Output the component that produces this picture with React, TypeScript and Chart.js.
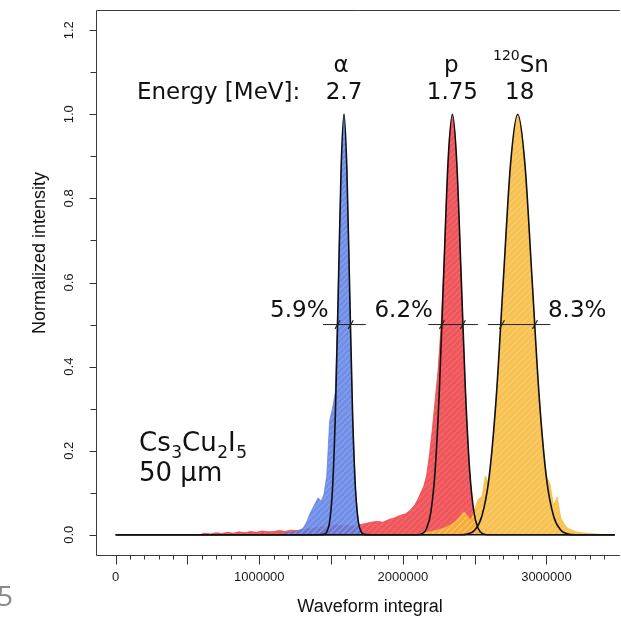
import React, { useEffect, useRef } from "react";
import { Chart, registerables } from "chart.js";

Chart.register(...registerables);

// ---------- data (waveform integral in thousands, normalized intensity) ----------
// alpha 2.7 MeV histogram
const alphaHistX = [1150, 1170, 1190, 1210, 1230, 1250, 1270, 1290, 1310, 1330, 1350, 1370, 1390, 1410, 1430, 1450, 1470, 1490, 1510, 1530, 1550, 1570, 1590, 1610, 1630, 1650, 1670, 1690, 1710, 1730, 1750];
const alphaHistY = [0, 0.003, 0.004, 0.006, 0.005, 0.007, 0.01, 0.012, 0.018, 0.03, 0.048, 0.062, 0.075, 0.088, 0.08, 0.095, 0.14, 0.27, 0.3, 0.34, 0.58, 0.87, 1.0, 0.87, 0.57, 0.28, 0.11, 0.03, 0.008, 0.002, 0];

// proton 1.75 MeV histogram
const protonHistX = [580, 620, 660, 700, 740, 780, 820, 860, 900, 940, 980, 1020, 1060, 1100, 1140, 1180, 1220, 1260, 1300, 1340, 1380, 1420, 1460, 1500, 1540, 1580, 1620, 1660, 1700, 1740, 1780, 1820, 1860, 1900, 1940, 1980, 2020, 2050, 2085, 2105, 2125, 2145, 2165, 2185, 2205, 2225, 2245, 2265, 2285, 2305, 2325, 2345, 2365, 2385, 2405, 2425, 2445, 2465, 2485, 2505, 2525, 2545];
const protonHistY = [0, 0.004, 0.002, 0.005, 0.003, 0.006, 0.004, 0.007, 0.005, 0.008, 0.006, 0.009, 0.007, 0.008, 0.01, 0.008, 0.011, 0.01, 0.012, 0.014, 0.016, 0.018, 0.02, 0.022, 0.024, 0.021, 0.023, 0.02, 0.024, 0.027, 0.03, 0.032, 0.03, 0.036, 0.04, 0.046, 0.05, 0.058, 0.072, 0.085, 0.1, 0.115, 0.14, 0.19, 0.25, 0.32, 0.39, 0.49, 0.63, 0.81, 0.95, 1.0, 0.95, 0.81, 0.62, 0.43, 0.27, 0.15, 0.07, 0.03, 0.01, 0];

// 120Sn 18 MeV histogram
const snHistX = [2130, 2150, 2175, 2200, 2225, 2250, 2275, 2300, 2325, 2350, 2375, 2400, 2425, 2450, 2475, 2500, 2525, 2550, 2575, 2600, 2625, 2650, 2675, 2700, 2725, 2750, 2775, 2800, 2825, 2850, 2875, 2900, 2925, 2950, 2975, 3000, 3025, 3050, 3075, 3100, 3125, 3150, 3175, 3200, 3250, 3300, 3350, 3400];
const snHistY = [0, 0.005, 0.006, 0.008, 0.01, 0.012, 0.015, 0.018, 0.022, 0.028, 0.035, 0.045, 0.055, 0.045, 0.035, 0.06, 0.085, 0.09, 0.14, 0.12, 0.21, 0.33, 0.45, 0.61, 0.75, 0.88, 0.97, 1.0, 0.97, 0.88, 0.75, 0.61, 0.46, 0.33, 0.22, 0.14, 0.12, 0.07, 0.09, 0.04, 0.025, 0.015, 0.012, 0.008, 0.005, 0.003, 0.002, 0];

// fitted curves (black)
const alphaFitX = [0, 1400, 1450, 1470, 1490, 1510, 1530, 1550, 1570, 1590, 1610, 1630, 1650, 1670, 1690, 1710, 1730, 1780, 3700];
const alphaFitY = [0, 0, 0.001, 0.007, 0.031, 0.109, 0.287, 0.575, 0.871, 1.0, 0.871, 0.575, 0.287, 0.109, 0.031, 0.007, 0.001, 0, 0];
const protonFitX = [0, 2100, 2135, 2165, 2195, 2225, 2255, 2285, 2315, 2345, 2375, 2405, 2435, 2465, 2495, 2525, 2555, 2590, 3700];
const protonFitY = [0, 0, 0.003, 0.015, 0.054, 0.154, 0.349, 0.626, 0.889, 1.0, 0.889, 0.626, 0.349, 0.154, 0.054, 0.015, 0.003, 0, 0];
const snFitX = [0, 2400, 2450, 2500, 2550, 2600, 2650, 2700, 2750, 2800, 2850, 2900, 2950, 3000, 3050, 3100, 3150, 3200, 3700];
const snFitY = [0, 0, 0.002, 0.011, 0.044, 0.135, 0.325, 0.607, 0.882, 1.0, 0.882, 0.607, 0.325, 0.135, 0.044, 0.011, 0.002, 0, 0];

// half-maximum bars and FWHM markers
const halfLevel = 0.5;
const alphaHalfBar = [1444, 1742];
const alphaFwhmMarks = [1545, 1637];
const protonHalfBar = [2177, 2522];
const protonFwhmMarks = [2272, 2418];
const snHalfBar = [2592, 3027];
const snFwhmMarks = [2690, 2920];
const resolutionLabels = ["5.9%", "6.2%", "8.3%"];

// peak labels
const peakCentres = [1590, 2345, 2800];
const particleLabels = ["α", "p", "Sn"];
const energyLabels = ["2.7", "1.75", "18"];

// axes
const xMin = -137;
const xMax = 3476;
const yMin = -0.048;
const yMax = 1.248;
const xMinorTicks = [0, 100, 200, 300, 400, 500, 600, 700, 800, 900, 1000, 1100, 1200, 1300, 1400, 1500, 1600, 1700, 1800, 1900, 2000, 2100, 2200, 2300, 2400, 2500, 2600, 2700, 2800, 2900, 3000, 3100, 3200, 3300, 3400];
const xMajorTicks = [0, 500, 1000, 1500, 2000, 2500, 3000];
const xLabelTicks = [0, 1000, 2000, 3000];
const xTickLabels = ["0", "1000000", "2000000", "3000000"];
const yMinorTicks = [0.1, 0.3, 0.5, 0.7, 0.9, 1.1];
const yMajorTicks = [0, 0.2, 0.4, 0.6, 0.8, 1.0, 1.2];
const yTickLabels = ["0.0", "0.2", "0.4", "0.6", "0.8", "1.0", "1.2"];

const pts = (xs: number[], ys: number[]) => xs.map((x, i) => ({ x: x * 1000, y: ys[i] }));

const TICK_FONT = '13px "Liberation Sans", Arial, sans-serif';
const TITLE_FONT = '18px "Liberation Sans", Arial, sans-serif';
const ANN = '"DejaVu Sans", Verdana, sans-serif';

function makePattern(ctx: CanvasRenderingContext2D, base: string, stripe: string) {
  const c = document.createElement("canvas");
  c.width = 6;
  c.height = 6;
  const g = c.getContext("2d")!;
  g.fillStyle = base;
  g.fillRect(0, 0, 6, 6);
  g.strokeStyle = stripe;
  g.lineWidth = 1.2;
  g.beginPath();
  g.moveTo(0, 6);
  g.lineTo(6, 0);
  g.moveTo(-1, 1);
  g.lineTo(1, -1);
  g.moveTo(5, 7);
  g.lineTo(7, 5);
  g.stroke();
  return ctx.createPattern(c, "repeat") as CanvasPattern;
}

const decorPlugin = {
  id: "decor",
  afterDraw(chart: any) {
    const { ctx, chartArea: ca, scales } = chart;
    const xs = scales.x;
    const ys = scales.y;
    const px = (v: number) => xs.getPixelForValue(v * 1000);
    const py = (v: number) => ys.getPixelForValue(v);
    ctx.save();

    // frame
    ctx.strokeStyle = "#3c3c3c";
    ctx.lineWidth = 1;
    ctx.beginPath();
    ctx.moveTo(ca.right + 5, Math.round(ca.top) + 0.5);
    ctx.lineTo(Math.round(ca.left) + 0.5, Math.round(ca.top) + 0.5);
    ctx.lineTo(Math.round(ca.left) + 0.5, Math.round(ca.bottom) + 0.5);
    ctx.lineTo(ca.right + 5, Math.round(ca.bottom) + 0.5);
    ctx.stroke();

    // x ticks
    ctx.strokeStyle = "#333";
    ctx.beginPath();
    const yb = Math.round(ca.bottom) + 0.5;
    xMinorTicks.forEach((v) => {
      const x = Math.round(px(v)) + 0.5;
      ctx.moveTo(x, yb);
      ctx.lineTo(x, yb + 4);
    });
    xMajorTicks.forEach((v) => {
      const x = Math.round(px(v)) + 0.5;
      ctx.moveTo(x, yb);
      ctx.lineTo(x, yb + 9);
    });
    // y ticks
    const xl = Math.round(ca.left) + 0.5;
    yMinorTicks.forEach((v) => {
      const y = Math.round(py(v)) + 0.5;
      ctx.moveTo(xl, y);
      ctx.lineTo(xl - 6, y);
    });
    yMajorTicks.forEach((v) => {
      const y = Math.round(py(v)) + 0.5;
      ctx.moveTo(xl, y);
      ctx.lineTo(xl - 7, y);
    });
    ctx.stroke();

    // tick labels
    ctx.fillStyle = "#1a1a1a";
    ctx.font = TICK_FONT;
    ctx.textAlign = "center";
    ctx.textBaseline = "middle";
    xLabelTicks.forEach((v, i) => ctx.fillText(xTickLabels[i], px(v), ca.bottom + 22));
    yMajorTicks.forEach((v, i) => {
      ctx.save();
      ctx.translate(69, py(v));
      ctx.rotate(-Math.PI / 2);
      ctx.fillText(yTickLabels[i], 0, 0);
      ctx.restore();
    });

    // axis titles
    ctx.font = TITLE_FONT;
    ctx.fillStyle = "#111";
    ctx.fillText("Waveform integral", 370, 607);
    ctx.save();
    ctx.translate(40, 253);
    ctx.rotate(-Math.PI / 2);
    ctx.fillText("Normalized intensity", 0, 0);
    ctx.restore();

    // annotations
    ctx.fillStyle = "#111";
    ctx.font = `23px ${ANN}`;
    ctx.textBaseline = "alphabetic";
    ctx.textAlign = "left";
    ctx.fillText("Energy [MeV]:", 137, 99);
    ctx.textAlign = "center";
    energyLabels.forEach((t, i) => ctx.fillText(t, px(peakCentres[i]) + (i === 2 ? 2 : 0), 99));
    ctx.fillText(particleLabels[0], px(peakCentres[0]) - 3, 72);
    ctx.fillText(particleLabels[1], px(peakCentres[1]) - 1, 72);
    // 120Sn
    ctx.textAlign = "left";
    const snX = px(peakCentres[2]) + 2;
    ctx.fillText(particleLabels[2], snX, 72);
    ctx.font = `14px ${ANN}`;
    ctx.textAlign = "right";
    ctx.fillText("120", snX, 60);

    // resolution labels
    ctx.font = `23px ${ANN}`;
    ctx.textAlign = "right";
    ctx.fillText(resolutionLabels[0], px(alphaFwhmMarks[0]) - 9, 317);
    ctx.fillText(resolutionLabels[1], px(protonFwhmMarks[0]) - 9, 317);
    ctx.textAlign = "left";
    ctx.fillText(resolutionLabels[2], px(snFwhmMarks[1]) + 13, 317);

    // sample label Cs3Cu2I5 / 50 µm
    ctx.textAlign = "left";
    let cx = 139;
    const big = `26px ${ANN}`;
    const small = `17px ${ANN}`;
    const parts: [string, boolean][] = [["Cs", false], ["3", true], ["Cu", false], ["2", true], ["I", false], ["5", true]];
    parts.forEach(([t, sub]) => {
      ctx.font = sub ? small : big;
      ctx.fillText(t, cx, sub ? 458 : 451);
      cx += ctx.measureText(t).width + (sub ? 0 : 0.5);
    });
    ctx.font = big;
    ctx.fillText("50 µm", 139, 481);

    // page number
    ctx.fillStyle = "#8a8a8a";
    ctx.font = '28px "Open Sans", sans-serif';
    ctx.textAlign = "left";
    ctx.textBaseline = "middle";
    ctx.fillText("5", -3, 598);

    ctx.restore();
  },
};

export default function App() {
  const canvasRef = useRef<HTMLCanvasElement | null>(null);

  useEffect(() => {
    const canvas = canvasRef.current!;
    const ctx = canvas.getContext("2d")!;
    const bluePat = makePattern(ctx, "rgba(88,124,228,0.86)", "rgba(142,168,240,0.86)");
    const redPat = makePattern(ctx, "rgba(236,58,64,0.86)", "rgba(244,112,118,0.86)");
    const orangePat = makePattern(ctx, "rgba(246,184,54,0.86)", "rgba(250,207,118,0.86)");

    const hist = (data: any, pat: CanvasPattern, edge: string, order: number) => ({
      data,
      fill: "origin",
      backgroundColor: pat,
      borderColor: edge,
      borderWidth: 0.8,
      pointRadius: 0,
      tension: 0,
      order,
    });
    const fit = (data: any) => ({
      data,
      fill: false,
      borderColor: "#111111",
      borderWidth: 1.6,
      pointRadius: 0,
      cubicInterpolationMode: "monotone",
      order: 1,
    });
    const bar = (xsv: number[]) => ({
      data: xsv.map((x) => ({ x: x * 1000, y: halfLevel })),
      fill: false,
      borderColor: "#222222",
      borderWidth: 1,
      pointRadius: 0,
      order: 0,
    });
    const marks = (xsv: number[]) => ({
      data: xsv.map((x) => ({ x: x * 1000, y: halfLevel })),
      showLine: false,
      pointStyle: "line",
      rotation: -60,
      pointRadius: 5,
      pointBorderColor: "#222222",
      pointBorderWidth: 1.2,
      order: 0,
    });

    const chart = new Chart(canvas, {
      type: "line",
      data: {
        datasets: [
          hist(pts(protonHistX, protonHistY), redPat, "rgba(236,58,64,0.9)", 5),
          hist(pts(snHistX, snHistY), orangePat, "rgba(246,184,54,0.9)", 4),
          hist(pts(alphaHistX, alphaHistY), bluePat, "rgba(88,124,228,0.9)", 3),
          fit(pts(alphaFitX, alphaFitY)),
          fit(pts(protonFitX, protonFitY)),
          fit(pts(snFitX, snFitY)),
          bar(alphaHalfBar),
          bar(protonHalfBar),
          bar(snHalfBar),
          marks(alphaFwhmMarks),
          marks(protonFwhmMarks),
          marks(snFwhmMarks),
        ] as any,
      },
      options: {
        responsive: false,
        maintainAspectRatio: false,
        animation: false,
        layout: { padding: { left: 96, top: 10, right: 0, bottom: 67 } },
        plugins: { legend: { display: false }, tooltip: { enabled: false } },
        scales: {
          x: { type: "linear", display: false, min: xMin * 1000, max: xMax * 1000 },
          y: { type: "linear", display: false, min: yMin, max: yMax },
        },
      },
      plugins: [decorPlugin],
    });
    return () => chart.destroy();
  }, []);

  return (
    <div style={{ position: "absolute", left: 0, top: 0, width: 621, height: 622, background: "#fff", overflow: "hidden" }}>
      <canvas ref={canvasRef} width={621} height={622} style={{ display: "block" }} />
    </div>
  );
}
